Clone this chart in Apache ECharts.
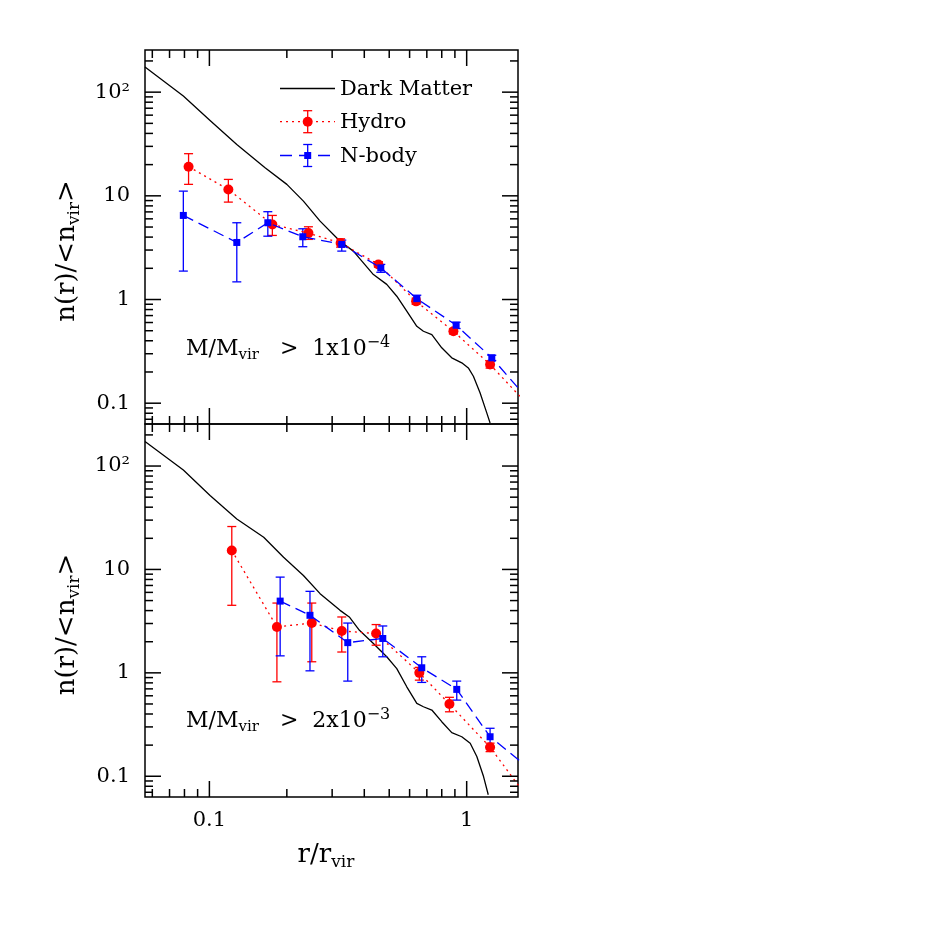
<!DOCTYPE html>
<html><head><meta charset="utf-8">
<script src="https://cdn.jsdelivr.net/npm/echarts@6/dist/echarts.min.js"></script>
<style>html,body{margin:0;padding:0;background:#fff}#c{width:941px;height:941px}</style>
</head><body><div id="c"></div>
<script>
// ---------------- data ----------------
// Top panel: M/Mvir > 1e-4
const dmTopX = [0.0562, 0.0792, 0.1006, 0.1278, 0.1646, 0.200, 0.232, 0.2693, 0.322, 0.3627, 0.434, 0.489, 0.535, 0.585, 0.640, 0.679, 0.732, 0.800, 0.875, 0.957, 1.015, 1.062, 1.127, 1.197, 1.233];
const dmTopY = [174.7, 91.7, 53.4, 31.3, 18.7, 12.9, 8.89, 5.7, 3.65, 2.93, 1.74, 1.40, 1.076, 0.771, 0.552, 0.494, 0.459, 0.342, 0.274, 0.245, 0.219, 0.182, 0.126, 0.0807, 0.0645];

const hydroTopX = [0.083, 0.1185, 0.1757, 0.2426, 0.3236, 0.4538, 0.636, 0.888, 1.233, 1.7];
const hydroTopY = [19.1, 11.5, 5.3, 4.37, 3.51, 2.18, 0.96, 0.494, 0.236, 0.101];
const hydroTopLo = [12.9, 8.7, 4.15, 3.8, 3.2, 2.05, 0.90, 0.465, 0.218];
const hydroTopHi = [25.5, 14.4, 6.47, 5.03, 3.85, 2.32, 1.03, 0.525, 0.256];

const nbodyTopX = [0.0792, 0.1278, 0.1687, 0.2307, 0.327, 0.4637, 0.640, 0.910, 1.252, 1.7];
const nbodyTopY = [6.47, 3.55, 5.5, 4.03, 3.4, 2.02, 1.02, 0.565, 0.274, 0.115];
const nbodyTopLo = [1.88, 1.48, 4.08, 3.23, 2.93, 1.83, 0.929, 0.525, 0.258];
const nbodyTopHi = [11.1, 5.5, 7.03, 4.81, 3.74, 2.18, 1.10, 0.604, 0.290];

// Bottom panel: M/Mvir > 2e-3
const dmBotX = [0.0562, 0.0792, 0.1006, 0.1278, 0.1626, 0.1942, 0.232, 0.2693, 0.322, 0.3497, 0.383, 0.434, 0.489, 0.535, 0.585, 0.640, 0.679, 0.732, 0.800, 0.875, 0.957, 1.032, 1.095, 1.163, 1.213];
const dmBotY = [172.7, 91.5, 51.8, 30.8, 20.5, 13.1, 8.75, 5.83, 4.02, 3.47, 2.58, 1.92, 1.43, 1.10, 0.733, 0.507, 0.470, 0.437, 0.337, 0.264, 0.241, 0.2085, 0.155, 0.0993, 0.0662];

const hydroBotX = [0.1222, 0.183, 0.250, 0.327, 0.4446, 0.6546, 0.857, 1.233, 1.7];
const hydroBotY = [15.25, 2.78, 3.03, 2.54, 2.40, 1.00, 0.499, 0.191, 0.065];
const hydroBotLo = [4.5, 0.819, 1.28, 1.59, 1.85, 0.85, 0.42, 0.173];
const hydroBotHi = [26.0, 4.73, 4.73, 3.47, 2.93, 1.13, 0.58, 0.209];

const nbodyBotX = [0.1884, 0.246, 0.345, 0.472, 0.669, 0.915, 1.233, 1.7];
const nbodyBotY = [4.94, 3.60, 1.96, 2.15, 1.12, 0.692, 0.241, 0.126];
const nbodyBotLo = [1.46, 1.046, 0.832, 1.43, 0.808, 0.545, 0.193];
const nbodyBotHi = [8.43, 6.14, 3.03, 2.84, 1.43, 0.832, 0.291];

// axis ticks and labels
const xTickValues = [0.06, 0.07, 0.08, 0.09, 0.1, 0.2, 0.3, 0.4, 0.5, 0.6, 0.7, 0.8, 0.9, 1];
const xMajorTicks = [0.1, 1];
const xMajorLabels = ['0.1', '1'];
const yTickValues = [0.07, 0.08, 0.09, 0.1, 0.2, 0.3, 0.4, 0.5, 0.6, 0.7, 0.8, 0.9, 1, 2, 3, 4, 5, 6, 7, 8, 9, 10, 20, 30, 40, 50, 60, 70, 80, 90, 100, 200];
const yMajorTicks = [0.1, 1, 10, 100];
const yMajorLabels = ['0.1', '1', '10', '10²'];

const legendNames = ['Dark Matter', 'Hydro', 'N-body'];
const panelNotes = [['1x10', '−4'], ['2x10', '−3']];

// ---------------- chart ----------------
const FONT = '"DejaVu Serif", serif';
const RED = '#ff0000', BLUE = '#0000ff';
const X_MIN = 0.0562, X_MAX = 1.583, Y_MIN = 0.063, Y_MAX = 255;

const pairs = (xs, ys) => xs.map((x, i) => [x, ys[i]]);
const errRows = (xs, ys, lo, hi) => lo.map((l, i) => [xs[i], ys[i], l, hi[i]]);
const isMajor = v => { const l = Math.log10(v); return Math.abs(l - Math.round(l)) < 1e-6; };
const lookup = (ticks, labels) => v => {
  const i = ticks.findIndex(t => Math.abs(Math.log10(t) - Math.log10(v)) < 1e-6);
  return i < 0 ? '' : labels[i];
};

function errorBarSeries(gi, rows, color) {
  return {
    type: 'custom', xAxisIndex: gi, yAxisIndex: gi, data: rows, encode: { x: 0, y: [1, 2, 3] },
    clip: true, z: 3, silent: true,
    renderItem: (params, api) => {
      const x = api.value(0);
      const p1 = api.coord([x, api.value(2)]);
      const p2 = api.coord([x, api.value(3)]);
      const st = { stroke: color, lineWidth: 1.3 };
      const c = 4.5;
      return { type: 'group', children: [
        { type: 'line', shape: { x1: p1[0], y1: p1[1], x2: p2[0], y2: p2[1] }, style: st },
        { type: 'line', shape: { x1: p1[0] - c, y1: p1[1], x2: p1[0] + c, y2: p1[1] }, style: st },
        { type: 'line', shape: { x1: p2[0] - c, y1: p2[1], x2: p2[0] + c, y2: p2[1] }, style: st }
      ] };
    }
  };
}

function tickSeries(gi, axis, vals) {
  return {
    type: 'custom', xAxisIndex: gi, yAxisIndex: gi, silent: true, z: 6, clip: false,
    data: vals.map(v => axis === 'x' ? [v, 1] : [1, v]),
    renderItem: (params, api) => {
      const cs = params.coordSys;
      const v = axis === 'x' ? api.value(0) : api.value(1);
      const len = isMajor(v) ? 16 : 8;
      const st = { stroke: '#000', lineWidth: 1.5 };
      if (axis === 'x') {
        const px = api.coord([v, 1])[0];
        return { type: 'group', children: [
          { type: 'line', shape: { x1: px, y1: cs.y, x2: px, y2: cs.y + len }, style: st },
          { type: 'line', shape: { x1: px, y1: cs.y + cs.height, x2: px, y2: cs.y + cs.height - len }, style: st }
        ] };
      }
      const py = api.coord([1, v])[1];
      return { type: 'group', children: [
        { type: 'line', shape: { x1: cs.x, y1: py, x2: cs.x + len, y2: py }, style: st },
        { type: 'line', shape: { x1: cs.x + cs.width, y1: py, x2: cs.x + cs.width - len, y2: py }, style: st }
      ] };
    }
  };
}

function lineSeries(gi, xs, ys, kind) {
  const base = { type: 'line', xAxisIndex: gi, yAxisIndex: gi, data: pairs(xs, ys), clip: true, animation: false, silent: true };
  if (kind === 'dm') return Object.assign(base, { symbol: 'none', z: 2, lineStyle: { color: '#000', width: 1.3 } });
  if (kind === 'hydro') return Object.assign(base, { symbol: 'circle', symbolSize: 10, z: 4,
    itemStyle: { color: RED }, lineStyle: { color: RED, width: 1.3, type: [2, 4] } });
  return Object.assign(base, { symbol: 'rect', symbolSize: 7, z: 5,
    itemStyle: { color: BLUE }, lineStyle: { color: BLUE, width: 1.3, type: [11, 6] } });
}

const richTitle = {
  a: { fontFamily: FONT, fontSize: 26, color: '#000', lineHeight: 32 },
  s: { fontFamily: FONT, fontSize: 17, color: '#000', lineHeight: 14, verticalAlign: 'bottom' }
};
const richNote = {
  a: { fontFamily: FONT, fontSize: 22, color: '#000', lineHeight: 28 },
  s: { fontFamily: FONT, fontSize: 15, color: '#000', lineHeight: 12, verticalAlign: 'bottom' },
  p: { fontFamily: FONT, fontSize: 16, color: '#000', lineHeight: 18, verticalAlign: 'top' }
};

const grids = [
  { left: 145, top: 50, width: 373, height: 374 },
  { left: 145, top: 424, width: 373, height: 373 }
].map(g => Object.assign(g, { show: true, borderColor: '#000', borderWidth: 1.5, backgroundColor: 'transparent' }));

const xAxes = [0, 1].map(gi => ({
  type: 'log', gridIndex: gi, min: X_MIN, max: X_MAX, logBase: 10,
  axisLine: { show: false }, axisTick: { show: false }, splitLine: { show: false }, minorTick: { show: false },
  axisLabel: { show: gi === 1, margin: 13, fontFamily: FONT, fontSize: 21, color: '#000',
    showMinLabel: false, showMaxLabel: false, formatter: lookup(xMajorTicks, xMajorLabels) },
  name: gi === 1 ? '{a|r/r}{s|vir}' : '', nameLocation: 'middle', nameGap: 42,
  nameTextStyle: { rich: richTitle, padding: [0, 11, 0, 0] }
}));

const yAxes = [0, 1].map(gi => ({
  type: 'log', gridIndex: gi, min: Y_MIN, max: Y_MAX, logBase: 10,
  axisLine: { show: false }, axisTick: { show: false }, splitLine: { show: false }, minorTick: { show: false },
  axisLabel: { margin: 15, fontFamily: FONT, fontSize: 21, color: '#000',
    showMinLabel: false, showMaxLabel: false, formatter: lookup(yMajorTicks, yMajorLabels) },
  name: '{a|n(r)/<n}{s|vir}{a|>}', nameLocation: 'middle', nameRotate: 90, nameGap: 62,
  nameTextStyle: { rich: richTitle, padding: [0, 28, 0, 0] }
}));

const series = [
  lineSeries(0, dmTopX, dmTopY, 'dm'),
  errorBarSeries(0, errRows(hydroTopX, hydroTopY, hydroTopLo, hydroTopHi), RED),
  lineSeries(0, hydroTopX, hydroTopY, 'hydro'),
  errorBarSeries(0, errRows(nbodyTopX, nbodyTopY, nbodyTopLo, nbodyTopHi), BLUE),
  lineSeries(0, nbodyTopX, nbodyTopY, 'nbody'),
  lineSeries(1, dmBotX, dmBotY, 'dm'),
  errorBarSeries(1, errRows(hydroBotX, hydroBotY, hydroBotLo, hydroBotHi), RED),
  lineSeries(1, hydroBotX, hydroBotY, 'hydro'),
  errorBarSeries(1, errRows(nbodyBotX, nbodyBotY, nbodyBotLo, nbodyBotHi), BLUE),
  lineSeries(1, nbodyBotX, nbodyBotY, 'nbody'),
  tickSeries(0, 'x', xTickValues), tickSeries(0, 'y', yTickValues),
  tickSeries(1, 'x', xTickValues), tickSeries(1, 'y', yTickValues)
];

// legend (drawn as graphics: sample line + error bar + marker + name)
function legendRow(y, name, color, dash, marker) {
  const els = [{ type: 'line', shape: { x1: 280, y1: y, x2: 335, y2: y },
    style: { stroke: color, lineWidth: 1.3, lineDash: dash } }];
  if (marker) {
    const st = { stroke: color, lineWidth: 1.3 };
    els.push({ type: 'line', shape: { x1: 307.7, y1: y - 11, x2: 307.7, y2: y + 11 }, style: st });
    els.push({ type: 'line', shape: { x1: 303.2, y1: y - 11, x2: 312.2, y2: y - 11 }, style: st });
    els.push({ type: 'line', shape: { x1: 303.2, y1: y + 11, x2: 312.2, y2: y + 11 }, style: st });
    if (marker === 'circle') els.push({ type: 'circle', shape: { cx: 307.7, cy: y, r: 5 }, style: { fill: color } });
    else els.push({ type: 'rect', shape: { x: 304.2, y: y - 3.5, width: 7, height: 7 }, style: { fill: color } });
  }
  els.push({ type: 'text', x: 340, y: y + 1, style: { text: name, font: '21px ' + FONT, fill: '#000', verticalAlign: 'middle' } });
  return els;
}

const note = i => '{a|M/M}{s|vir}{a|   >  ' + panelNotes[i][0] + '}{p|' + panelNotes[i][1] + '}';
const graphic = [].concat(
  legendRow(88.5, legendNames[0], '#000', null, null),
  legendRow(121.7, legendNames[1], RED, [2, 4], 'circle'),
  legendRow(155.5, legendNames[2], BLUE, [12, 7], 'rect'),
  [
    { type: 'text', x: 186, y: 349, style: { text: note(0), rich: richNote, verticalAlign: 'middle' } },
    { type: 'text', x: 186, y: 721, style: { text: note(1), rich: richNote, verticalAlign: 'middle' } }
  ]
);

const chart = echarts.init(document.getElementById('c'), null, { renderer: 'canvas' });
chart.setOption({
  animation: false,
  backgroundColor: '#fff',
  grid: grids,
  xAxis: xAxes,
  yAxis: yAxes,
  series: series,
  graphic: graphic
});
</script>
</body></html>
